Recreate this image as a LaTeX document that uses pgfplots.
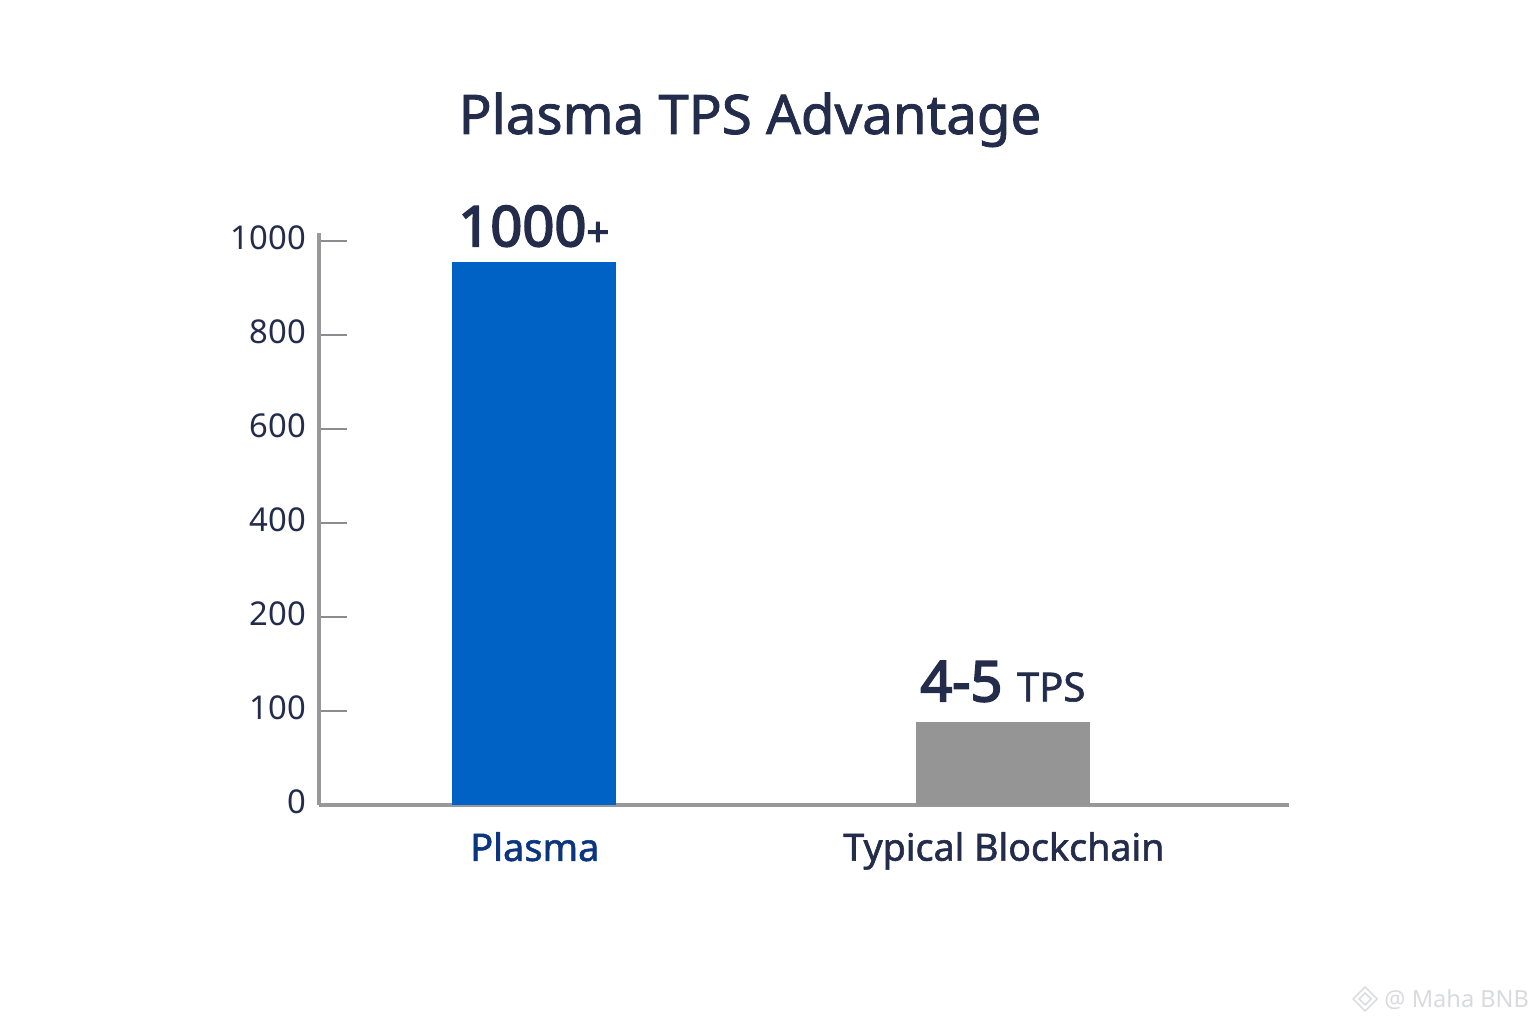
\documentclass[border=0pt]{standalone}
\usepackage{pgfplots}
\pgfplotsset{compat=1.18}
\usepackage{fontspec}
\setmainfont{Noto Sans}
\newfontfamily\nsemi[FakeBold=1.5]{Noto Sans}
\newfontfamily\nbold[FakeBold=3.2]{Noto Sans}
\definecolor{ink}{HTML}{232D4B}
\definecolor{plasmablue}{HTML}{0062C4}
\definecolor{plasmalabel}{HTML}{0C357F}
\definecolor{barGray}{HTML}{959595}
\definecolor{axisGray}{HTML}{98989C}
\definecolor{tickGray}{HTML}{8C8C90}
\definecolor{wm}{HTML}{D9DADD}
\begin{document}
\begin{tikzpicture}[x=1pt,y=1pt]
\path (0,0) rectangle (768,512);
\begin{axis}[
  at={(159.5pt,109.5pt)}, anchor=south west,
  scale only axis, width=485pt, height=286pt,
  clip=false,
  axis lines=left,
  axis line style={-, axisGray, line width=1.6pt},
  xmin=-0.458, xmax=1.610,
  ymin=0, ymax=1017,
  y coord trafo/.code={\pgfmathparse{#1<=200 ? #1/100 : #1/200+1}},
  ytick={0,100,200,400,600,800,1000},
  yticklabels={0,100,200,400,600,800,1000},
  xtick={0,1},
  xticklabels={{\textcolor{plasmalabel}{\fontsize{19}{22}\nsemi Plasma}},{\fontsize{18.8}{22}\nsemi\raisebox{-1pt}{Typical Blockchain}}},
  x tick label style={text=ink, yshift=4pt, xshift=0.5pt, anchor=north},
  xtick style={draw=none},
  y tick label style={text=ink, font=\fontsize{16.4}{20}\selectfont, xshift=-3pt, yshift=1.5pt},
  /pgf/number format/assume math mode=true,
  ytick style={draw=tickGray, line width=0.6pt},
  tick align=inside,
  major tick length=14pt,
  ybar, bar shift=0pt,
]
\addplot[fill=plasmablue, draw=none, bar width=82pt] coordinates {(0,955)};
\addplot[fill=barGray, draw=none, bar width=87pt] coordinates {(1,88)};
\node[text=ink, anchor=south, inner sep=0pt, yshift=7.5pt, xshift=0pt] at (axis cs:0,955)
  {\fontsize{28}{30}\nbold 1000\fontsize{20}{24}\nbold+};
\node[text=ink, anchor=south, inner sep=0pt, yshift=10pt] at (axis cs:1,88)
  {\fontsize{28}{30}\nbold 4-5 \fontsize{20}{24}\nsemi TPS};
\end{axis}
\node[text=ink, anchor=base, inner sep=0pt] at (375,445)
  {\fontsize{27.3}{32}\nsemi Plasma TPS Advantage};
% watermark
\node[text=wm, anchor=base west, inner sep=0pt] at (692,8.5)
  {\fontsize{11.8}{14}\selectfont @ Maha BNB};
\begin{scope}[shift={(682.5,12.5)}, draw=wm, line width=0.7pt]
  \draw (-6,0)--(0,6)--(6,0)--(0,-6)--cycle;
  \draw (-3,0)--(0,3)--(3,0)--(0,-3)--cycle;
\end{scope}
\end{tikzpicture}
\end{document}
